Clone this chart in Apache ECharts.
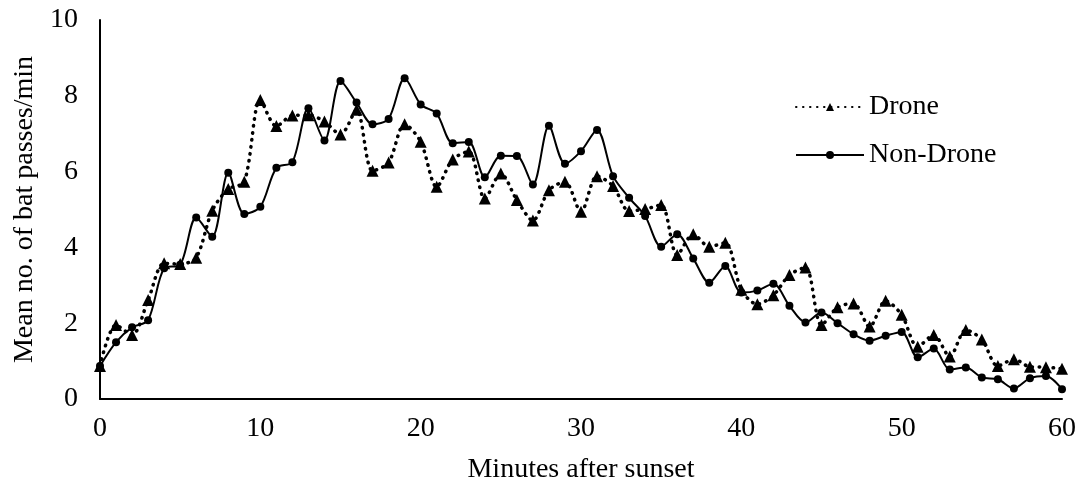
<!DOCTYPE html>
<html>
<head>
<meta charset="utf-8">
<script src="https://cdn.jsdelivr.net/npm/echarts@6/dist/echarts.min.js"></script>
<style>
  html, body { margin: 0; padding: 0; background: #fff; }
  #chart { width: 1085px; height: 490px; }
</style>
</head>
<body>
<div id="chart"></div>
<script>
const minutes = [0, 1, 2, 3, 4, 5, 6, 7, 8, 9, 10, 11, 12, 13, 14, 15, 16, 17, 18, 19, 20,
  21, 22, 23, 24, 25, 26, 27, 28, 29, 30, 31, 32, 33, 34, 35, 36, 37, 38, 39, 40,
  41, 42, 43, 44, 45, 46, 47, 48, 49, 50, 51, 52, 53, 54, 55, 56, 57, 58, 59, 60]

const drone = [0.87, 1.95, 1.69, 2.61, 3.58, 3.56, 3.73, 4.97, 5.54, 5.73,
  7.89, 7.20, 7.48, 7.49, 7.32, 6.98, 7.63, 6.02, 6.24, 7.25,
  6.79, 5.60, 6.32, 6.53, 5.29, 5.95, 5.25, 4.71, 5.51, 5.73,
  4.94, 5.88, 5.62, 4.96, 5.01, 5.12, 3.80, 4.35, 4.02, 4.12,
  2.88, 2.50, 2.74, 3.27, 3.47, 1.95, 2.42, 2.52, 1.91, 2.59,
  2.22, 1.38, 1.69, 1.12, 1.82, 1.57, 0.87, 1.05, 0.85, 0.84, 0.80]

const nonDrone = [0.87, 1.50, 1.89, 2.08, 3.45, 3.54, 4.79, 4.28, 5.97, 4.88,
  5.07, 6.10, 6.25, 7.67, 6.82, 8.39, 7.82, 7.25, 7.39, 8.46,
  7.77, 7.53, 6.75, 6.78, 5.85, 6.42, 6.41, 5.66, 7.21, 6.21,
  6.54, 7.10, 5.88, 5.31, 4.83, 4.02, 4.35, 3.71, 3.07, 3.51,
  2.81, 2.86, 3.04, 2.46, 2.02, 2.28, 2.00, 1.71, 1.54, 1.67,
  1.77, 1.10, 1.33, 0.78, 0.83, 0.57, 0.52, 0.28, 0.55, 0.61, 0.26]

const font = "'Liberation Serif', 'Times New Roman', serif"

const pairs = (vals) => minutes.map((m, i) => [m, vals[i]])

const myChart = echarts.init(document.getElementById('chart'))
myChart.setOption({
  animation: false,
  textStyle: { fontFamily: font, color: '#000' },
  grid: { left: 100, right: 23, top: 20, bottom: 91 },
  legend: {
    orient: 'vertical',
    left: 790,
    top: 88,
    itemWidth: 68,
    itemHeight: 10,
    itemGap: 20,
    textStyle: { fontFamily: font, fontSize: 28, color: '#000', lineHeight: 28 },
    data: ['Drone', 'Non-Drone']
  },
  xAxis: {
    type: 'value',
    min: 0,
    max: 60,
    interval: 10,
    name: 'Minutes after sunset',
    nameLocation: 'middle',
    nameGap: 57,
    nameTextStyle: { fontFamily: font, fontSize: 28, color: '#000' },
    axisLine: { lineStyle: { color: '#000', width: 2 } },
    axisTick: { show: false },
    axisLabel: { fontFamily: font, fontSize: 28, color: '#000', margin: 16 },
    splitLine: { show: false }
  },
  yAxis: {
    type: 'value',
    min: 0,
    max: 10,
    interval: 2,
    name: 'Mean no. of bat passes/min',
    nameLocation: 'middle',
    nameGap: 58,
    nameTextStyle: { fontFamily: font, fontSize: 28, color: '#000' },
    axisLine: { show: true, lineStyle: { color: '#000', width: 2 } },
    axisTick: { show: false },
    axisLabel: { fontFamily: font, fontSize: 28, color: '#000', margin: 22 },
    splitLine: { show: false }
  },
  series: [
    {
      name: 'Drone',
      type: 'line',
      smooth: 0.3,
      data: pairs(drone),
      symbol: 'triangle',
      symbolSize: 12,
      itemStyle: { color: '#000' },
      lineStyle: { color: '#000', width: 3.5, type: [0.5, 6.5], cap: 'round' },
      z: 2
    },
    {
      name: 'Non-Drone',
      type: 'line',
      smooth: 0.3,
      data: pairs(nonDrone),
      symbol: 'circle',
      symbolSize: 8,
      itemStyle: { color: '#000' },
      lineStyle: { color: '#000', width: 2 },
      z: 3
    }
  ]
})
</script>
</body>
</html>
